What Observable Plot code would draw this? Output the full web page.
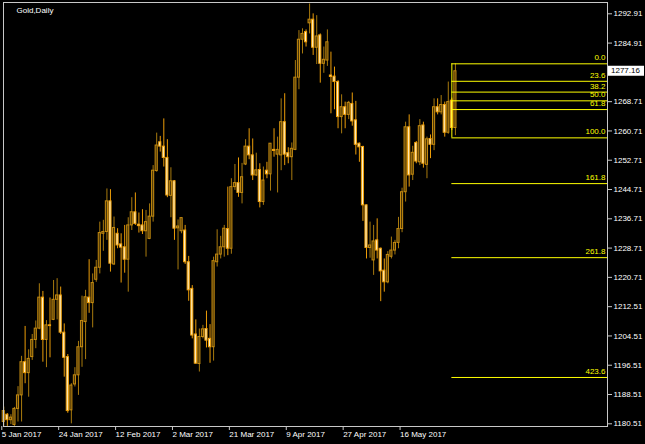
<!DOCTYPE html>
<html><head><meta charset="utf-8">
<script src="https://cdn.jsdelivr.net/npm/d3@7"></script>
<script src="https://cdn.jsdelivr.net/npm/@observablehq/plot@0.6"></script>
<style>
html,body{margin:0;padding:0;background:#000;}
#chart{width:645px;height:444px;overflow:hidden;}
</style></head><body><div id="chart"></div>
<script>
// ---- Data (Gold, Daily; one entry per bar) ----
const opens = [1181.0,1183.0,1181.5,1180.2,1184.6,1188.3,1197.4,1194.4,1198.8,1203.5,
1206.6,1215.1,1203.5,1207.5,1209.0,1214.5,1215.7,1205.5,1198.8,1184.2,
1191.3,1193.8,1201.5,1208.4,1215.1,1213.6,1220.0,1223.3,1232.6,1233.1,
1241.5,1224.2,1232.6,1229.7,1228.9,1225.5,1234.9,1238.5,1235.1,1234.9,
1233.3,1231.2,1237.3,1249.8,1257.7,1256.5,1253.4,1243.0,1247.0,1234.1,
1233.3,1233.5,1224.8,1217.5,1205.0,1196.9,1204.3,1206.5,1203.8,1201.5,
1224.8,1226.9,1228.9,1233.9,1228.5,1245.4,1246.5,1243.8,1251.6,1256.5,
1254.1,1248.6,1250.1,1241.3,1249.9,1248.9,1255.6,1254.3,1254.1,1263.2,
1254.7,1253.6,1255.6,1275.4,1285.8,1287.9,1290.3,1291.3,1283.6,1287.0,
1279.2,1280.1,1276.0,1275.7,1274.2,1264.6,1267.3,1265.2,1268.2,1263.7,
1257.3,1256.4,1240.4,1228.7,1225.3,1230.8,1228.5,1222.5,1219.3,1226.3,
1228.0,1230.1,1233.9,1244.0,1261.8,1248.8,1257.5,1252.2,1262.3,1251.5,
1258.6,1257.0,1267.3,1265.9,1267.9,1260.3,1269.1,1261.6];
const highs = [1185.1,1183.3,1183.0,1185.0,1190.7,1199.0,1207.2,1200.8,1205.0,1208.7,
1218.9,1216.8,1208.8,1215.0,1219.8,1220.3,1218.0,1207.9,1199.5,1191.5,
1195.9,1203.1,1215.5,1217.1,1225.5,1221.6,1225.3,1235.8,1236.3,1244.9,
1244.7,1237.2,1234.0,1232.6,1234.9,1237.0,1242.5,1243.8,1238.3,1239.2,
1239.0,1240.8,1251.3,1260.2,1259.3,1264.1,1258.4,1250.7,1247.2,1236.4,
1237.0,1234.9,1226.4,1218.4,1209.0,1206.5,1207.5,1211.4,1207.7,1226.2,
1233.7,1231.9,1234.9,1245.4,1247.7,1251.6,1253.4,1251.9,1258.4,1261.4,
1258.6,1254.7,1251.8,1250.9,1252.2,1257.3,1261.4,1259.1,1269.6,1271.0,
1256.2,1257.5,1280.1,1288.3,1288.8,1288.5,1295.6,1292.9,1292.4,1287.4,
1283.8,1288.5,1282.4,1278.3,1274.6,1270.7,1268.7,1268.9,1271.2,1268.9,
1257.5,1256.6,1240.5,1235.8,1234.9,1236.7,1228.7,1225.7,1227.7,1231.7,
1230.8,1237.1,1245.1,1263.2,1265.2,1256.6,1257.9,1263.9,1263.2,1259.1,
1259.7,1269.6,1269.6,1270.5,1268.7,1274.2,1269.8,1279.2];
const lows = [1179.8,1179.8,1180.3,1179.8,1181.0,1181.0,1191.5,1187.8,1197.9,1201.1,
1206.3,1197.4,1195.9,1198.6,1208.8,1209.0,1205.0,1193.3,1183.4,1180.5,
1190.6,1188.3,1196.0,1198.1,1210.8,1206.8,1219.3,1221.6,1227.8,1230.8,
1222.1,1223.9,1228.5,1219.1,1221.8,1216.6,1233.5,1234.9,1232.8,1232.4,
1226.2,1231.0,1235.8,1249.5,1255.0,1250.9,1242.5,1237.0,1230.8,1222.7,
1232.6,1224.2,1214.1,1203.8,1196.8,1194.7,1203.8,1201.3,1197.1,1197.7,
1223.5,1225.7,1226.2,1226.6,1227.0,1244.5,1242.6,1240.8,1251.3,1252.9,
1247.2,1248.3,1239.7,1240.4,1247.7,1244.3,1253.6,1243.8,1249.9,1251.3,
1251.8,1247.2,1255.4,1272.1,1281.9,1283.8,1287.4,1281.5,1279.0,1273.9,
1276.6,1278.5,1265.5,1266.6,1261.4,1260.0,1261.4,1263.9,1262.1,1254.2,
1252.2,1236.0,1225.7,1225.9,1221.2,1225.7,1214.0,1216.6,1218.9,1225.7,
1226.8,1228.5,1232.9,1241.3,1245.4,1247.2,1251.8,1251.3,1250.6,1247.7,
1253.2,1255.4,1265.2,1265.2,1259.1,1259.9,1260.9,1259.5];
const closes = [1184.0,1181.5,1182.2,1184.6,1188.3,1197.4,1194.4,1198.3,1203.5,1206.6,
1215.1,1203.5,1207.5,1207.3,1214.5,1215.7,1205.5,1198.6,1184.0,1191.0,
1193.8,1201.5,1208.7,1215.2,1213.6,1219.1,1223.3,1232.8,1233.1,1241.5,
1224.4,1234.2,1229.4,1228.8,1225.5,1234.9,1238.5,1235.3,1234.7,1233.3,
1235.8,1237.3,1249.9,1256.8,1256.5,1253.4,1243.1,1247.0,1234.0,1234.6,
1236.9,1224.8,1217.1,1204.7,1197.0,1204.3,1206.4,1203.3,1201.5,1225.1,
1226.9,1228.9,1234.0,1228.5,1245.4,1246.5,1243.8,1248.1,1256.5,1254.1,
1248.6,1250.0,1241.3,1247.2,1248.9,1257.3,1255.3,1255.6,1263.2,1254.3,
1253.6,1255.9,1275.4,1285.8,1287.4,1285.1,1291.3,1283.6,1286.7,1279.2,
1280.3,1285.1,1275.6,1274.2,1264.6,1267.3,1265.2,1268.5,1263.4,1257.0,
1256.3,1240.4,1228.7,1229.4,1230.5,1228.0,1222.3,1219.3,1226.8,1228.0,
1230.1,1233.9,1244.0,1261.8,1248.6,1254.8,1252.4,1262.1,1251.8,1258.5,
1257.0,1267.3,1265.9,1267.9,1260.3,1268.7,1261.6,1277.16];

const dateTickBars = [0, 16, 32, 48, 64, 80, 96, 112];
const dateTickLabels = ["5 Jan 2017","24 Jan 2017","12 Feb 2017","2 Mar 2017","21 Mar 2017","9 Apr 2017","27 Apr 2017","16 May 2017"];
// price grid labels, bottom to top (the one at 1276.81 sits under the current-price box)
const priceTickLabels = ["1180.51","1188.51","1196.51","1204.51","1212.51","1220.71","1228.71","1236.71","1244.71","1252.71","1260.71","1268.71","1276.81","1284.91","1292.91"];
const priceTickLow = 1180.51, priceTickHigh = 1292.91;

const fibLevels = [0.0, 23.6, 38.2, 50.0, 61.8, 100.0, 161.8, 261.8, 423.6];
const fibHigh = 1279.2, fibLow = 1258.9, fibStartBar = 126;
const currentPrice = 1277.16;
const title = "Gold,Daily";

// ---- Derived ----
const bars = opens.map((o, i) => ({i, open: o, high: highs[i], low: lows[i], close: closes[i], up: closes[i] >= o}));
const nT = priceTickLabels.length - 1;
const priceTicks = priceTickLabels.map((_, k) => priceTickLow + k * (priceTickHigh - priceTickLow) / nT);
const shownPriceTicks = priceTicks.filter(v => Math.abs(v - currentPrice) > 2);
const xMax = 169.77;
const fibRows = fibLevels.map(l => ({level: l, price: fibHigh - l / 100 * (fibHigh - fibLow)}));

const bullFill = "#4a3607", bullStroke = "#c48a10", bullWick = "#a87a0e";
const bearFill = "#fff0c4", bearStroke = "#f0a00a", bearWick = "#eb9c08";
const fibColor = "#ffff00";
const font = "'Liberation Sans', Arial, sans-serif";

const chart = Plot.plot({
  width: 645, height: 444,
  marginLeft: 3, marginRight: 38, marginTop: 2, marginBottom: 18,
  style: {background: "#000", color: "#ffffff", fontFamily: font, fontSize: "8px"},
  x: {type: "linear", domain: [-0.08, xMax], label: null},
  y: {type: "linear", domain: [1179.77, 1296.01], label: null},
  marks: [
    Plot.ruleX(bars, {x: "i", y1: "low", y2: "high", stroke: d => d.up ? bullWick : bearWick, strokeWidth: 1}),
    Plot.rect(bars, {x1: d => d.i - 0.3, x2: d => d.i + 0.3, y1: "open", y2: "close",
      fill: d => d.up ? bullFill : bearFill, stroke: d => d.up ? bullStroke : bearStroke, strokeWidth: 1}),
    Plot.ruleY(fibRows, {y: "price", x1: fibStartBar, x2: xMax, stroke: fibColor, strokeWidth: 1}),
    Plot.ruleX([fibStartBar], {x: d => d, y1: fibLow, y2: fibHigh, stroke: fibColor, strokeWidth: 1}),
    Plot.text(fibRows, {x: xMax, y: "price", text: d => d.level.toFixed(1), textAnchor: "end",
      lineAnchor: "middle", dx: -2, dy: -6, fill: fibColor, fontSize: 8}),
    Plot.frame({stroke: "#c8c8c8"}),
    Plot.axisY({anchor: "right", ticks: shownPriceTicks, tickSize: 4, tickPadding: 2, stroke: "#c8c8c8", label: null,
      tickFormat: d => priceTickLabels[priceTicks.findIndex(v => Math.abs(v - d) < 1e-6)], fill: "#ffffff"}),
    Plot.axisX({anchor: "bottom", ticks: dateTickBars, tickSize: 4, tickPadding: 1, stroke: "#c8c8c8", label: null,
      textAnchor: "start", dx: -2, fill: "#ffffff",
      tickFormat: d => dateTickLabels[dateTickBars.indexOf(d)]}),
    Plot.text([title], {frameAnchor: "top-left", dx: 13, dy: 7.5, lineAnchor: "middle", textAnchor: "start", fill: "#ffffff", fontSize: 8})
  ]
});
document.getElementById("chart").appendChild(chart);

// current price label box on the price axis
const yPix = chart.scale("y").apply(currentPrice);
const svg = d3.select(chart);
const g = svg.append("g");
g.append("rect").attr("x", 608).attr("y", yPix - 5).attr("width", 36).attr("height", 10).attr("fill", "#ffffff");
g.append("text").attr("x", 611).attr("y", yPix).attr("dy", "0.32em").attr("fill", "#000000")
  .attr("text-anchor", "start").attr("font-size", 8).attr("font-family", font).text(currentPrice.toFixed(2));
</script>
</body></html>
